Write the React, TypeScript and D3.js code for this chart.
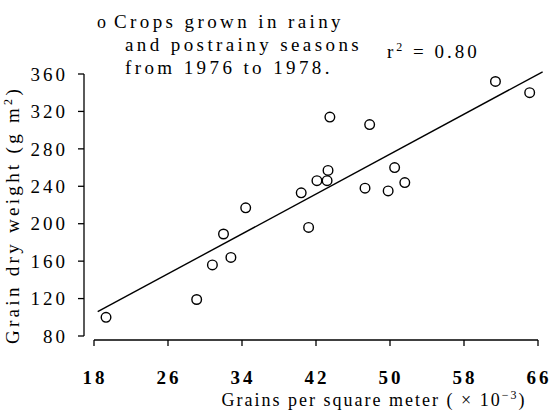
import React from "react";
import * as d3 from "d3";

const xTicks = [18, 26, 34, 42, 50, 58, 66];
const yTicks = [80, 120, 160, 200, 240, 280, 320, 360];

const grains = [19.3, 29.1, 30.8, 32.0, 32.8, 34.4, 40.4, 41.2, 42.1, 43.2, 43.3, 43.5, 47.8, 47.3, 49.8, 50.5, 51.6, 61.4, 65.1];
const weight = [100, 119, 156, 189, 164, 217, 233, 196, 246, 246, 257, 314, 306, 238, 235, 260, 244, 352, 340];

const regSlope = 5.33;
const regIntercept = 7.9;
const regRange = [18.4, 66.5];

const legendLines = ["Crops grown in rainy", "and postrainy seasons", "from 1976 to 1978."];

const W = 550;
const H = 414;

const FONT = "'Liberation Serif', 'Times New Roman', 'DejaVu Serif', serif";

export default function App() {
  const x = d3.scaleLinear().domain([18, 66]).range([94, 538]);
  const y = d3.scaleLinear().domain([80, 360]).range([336, 74]);
  const line = d3
    .line<number>()
    .x((d) => x(d))
    .y((d) => y(regIntercept + regSlope * d));

  const axisY = 84;
  const axisX = 340;
  const ts: React.CSSProperties = { fontFamily: FONT, fontWeight: 400 };
  const tb: React.CSSProperties = { fontFamily: FONT, fontWeight: 700 };

  return (
    <svg
      width={W}
      height={H}
      style={{ position: "absolute", left: 0, top: 0, background: "#fff" }}
    >
      <rect x={0} y={0} width={W} height={H} fill="#fff" />
      {/* Y axis */}
      <line x1={axisY} x2={axisY} y1={y(360)} y2={y(80)} stroke="#000" strokeWidth={1.3} />
      {yTicks.map((t) => (
        <g key={t}>
          <line x1={axisY - 6} x2={axisY} y1={y(t)} y2={y(t)} stroke="#000" strokeWidth={1.3} />
          <text
            x={68}
            y={y(t)}
            dy="0.35em"
            textAnchor="end"
            fontSize={19}
            fill="#000"
            letterSpacing={3}
            style={ts}
          >
            {t}
          </text>
        </g>
      ))}
      {/* X axis */}
      <line x1={x(18)} x2={x(66)} y1={axisX} y2={axisX} stroke="#000" strokeWidth={1.3} />
      {xTicks.map((t) => (
        <g key={t}>
          <line x1={x(t)} x2={x(t)} y1={axisX} y2={axisX + 6} stroke="#000" strokeWidth={1.3} />
          <text
            x={x(t) + 1}
            y={384}
            textAnchor="middle"
            fontSize={19}
            fill="#000"
            letterSpacing={3}
            style={tb}
          >
            {t}
          </text>
        </g>
      ))}
      {/* Axis titles */}
      <text
        x={374}
        y={406}
        textAnchor="middle"
        fontSize={18}
        fill="#000"
        letterSpacing={2}
        style={ts}
      >
        Grains per square meter ( × 10
        <tspan dy={-7} fontSize={12}>−3</tspan>
        <tspan dy={7}>)</tspan>
      </text>
      <text
        transform={`translate(19, 215) rotate(-90)`}
        textAnchor="middle"
        fontSize={19}
        fill="#000"
        letterSpacing={3.3}
        style={ts}
      >
        Grain dry weight (g m
        <tspan dy={-7} fontSize={12}>2</tspan>
        <tspan dy={7}>)</tspan>
      </text>
      {/* Regression line */}
      <path d={line(regRange) || ""} fill="none" stroke="#000" strokeWidth={1.4} />
      {/* Points */}
      {grains.map((g, i) => (
        <circle
          key={i}
          cx={x(g)}
          cy={y(weight[i])}
          r={4.8}
          fill="none"
          stroke="#000"
          strokeWidth={1.4}
        />
      ))}
      {/* Legend */}
      <text x={97} y={28} fontSize={18} fill="#000" style={ts}>o</text>
      {legendLines.map((l, i) => (
        <text
          key={i}
          x={i === 0 ? 114 : 125}
          y={28 + i * 23}
          fontSize={19}
          fill="#000"
          letterSpacing={3.4}
          style={ts}
        >
          {l}
        </text>
      ))}
      <text x={387} y={58} fontSize={19} fill="#000" letterSpacing={3} style={ts}>
        r<tspan dy={-7} fontSize={12}>2</tspan>
        <tspan dy={7}> = 0.80</tspan>
      </text>
    </svg>
  );
}
